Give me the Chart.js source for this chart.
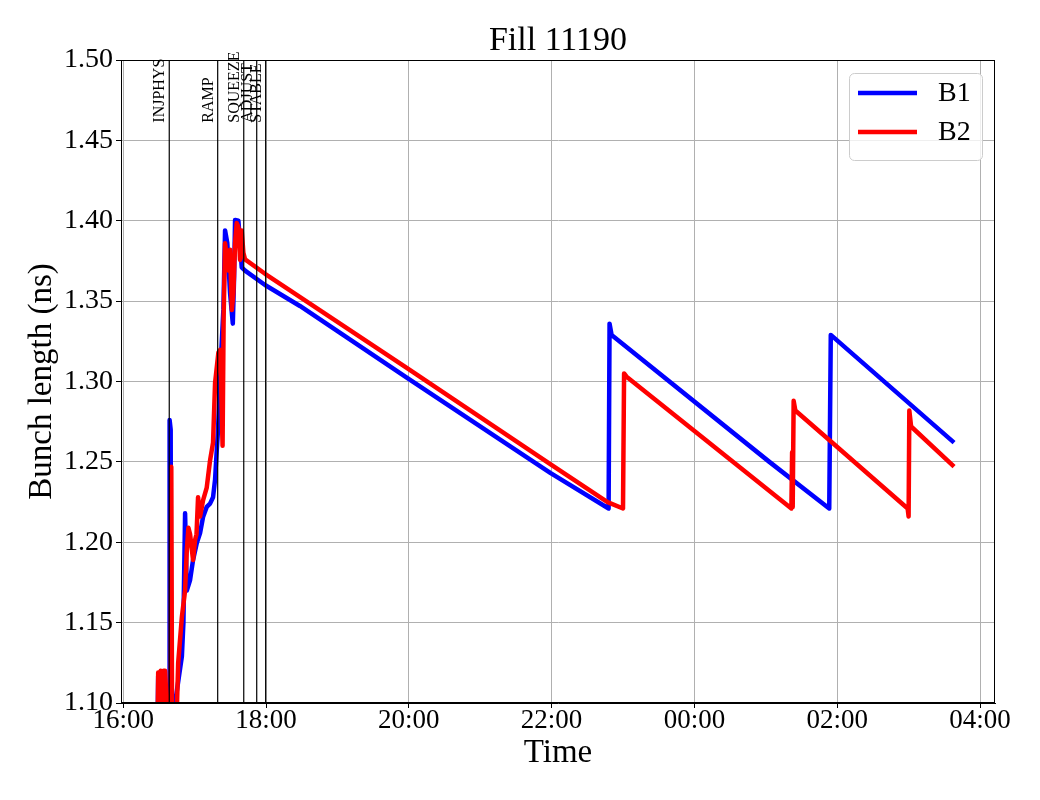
<!DOCTYPE html>
<html>
<head>
<meta charset="utf-8">
<script src="https://cdn.jsdelivr.net/npm/chart.js@4/dist/chart.umd.min.js"></script>
<style>
  html, body { margin: 0; padding: 0; background: #fff; }
  #wrap { width: 1040px; height: 800px; }
</style>
</head>
<body>
<div id="wrap"><canvas id="chart" width="1040" height="800"></canvas></div>
<script>
// time = minutes after 16:00
const b1Time = [28.95, 29.4, 30.2, 31.05, 31.9, 33.15, 33.6, 35.2, 38.6, 39.0, 39.9, 40.3, 42.8, 43.6, 49.3, 50.6, 52.0, 53.45, 56.2, 58.7, 61.85, 64.6, 67.1, 70.2, 73.0, 75.5, 77.2, 78.6, 79.7, 81.4, 82.8, 84.2, 85.6, 87.5, 89.8, 92.1, 93.2, 94.0, 96.8, 98.2, 99.6, 102.4, 119.2, 148.5, 239.2, 316.4, 359.2, 407.9, 408.7, 410.4, 543.0, 593.3, 594.6, 698.2];
const b1Len = [1.09, 1.117, 1.095, 1.118, 1.09, 1.119, 1.095, 1.08, 1.08, 1.276, 1.27, 1.08, 1.08, 1.10, 1.129, 1.15, 1.218, 1.170, 1.1765, 1.189, 1.1995, 1.2057, 1.2157, 1.222, 1.224, 1.228, 1.239, 1.257, 1.27, 1.305, 1.324, 1.345, 1.394, 1.386, 1.355, 1.336, 1.365, 1.4005, 1.400, 1.386, 1.371, 1.369, 1.360, 1.347, 1.302, 1.264, 1.243, 1.221, 1.336, 1.329, 1.250, 1.221, 1.329, 1.262];

const b2Time = [28.95, 29.4, 30.6, 31.5, 32.7, 34.0, 35.2, 36.5, 36.9, 39.9, 40.4, 41.1, 44.5, 46.2, 49.3, 52.0, 53.45, 54.8, 56.2, 58.7, 60.4, 61.6, 62.9, 64.6, 67.1, 70.2, 73.0, 75.5, 77.2, 80.0, 81.4, 82.2, 83.5, 84.4, 85.6, 88.4, 89.8, 91.3, 92.6, 94.0, 95.4, 96.8, 98.2, 99.6, 101.0, 102.4, 119.2, 239.2, 359.2, 407.0, 420.0, 420.9, 423.0, 561.5, 562.1, 562.6, 563.4, 564.8, 593.3, 659.2, 660.0, 660.6, 662.1, 698.2];
const b2Len = [1.09, 1.119, 1.10, 1.12, 1.095, 1.12, 1.12, 1.10, 1.08, 1.08, 1.247, 1.08, 1.08, 1.125, 1.1535, 1.170, 1.195, 1.209, 1.205, 1.189, 1.2014, 1.205, 1.228, 1.216, 1.226, 1.234, 1.251, 1.262, 1.299, 1.318, 1.3196, 1.30, 1.26, 1.34, 1.386, 1.369, 1.382, 1.3445, 1.355, 1.386, 1.3986, 1.396, 1.3756, 1.394, 1.380, 1.376, 1.367, 1.308, 1.2485, 1.225, 1.221, 1.305, 1.303, 1.221, 1.256, 1.222, 1.288, 1.282, 1.2636, 1.221, 1.216, 1.282, 1.272, 1.247];

const eventNames = ['INJPHYS', 'RAMP', 'SQUEEZE', 'ADJUST', 'STABLE'];
const eventTimes = [38.7, 79.4, 101.3, 112.2, 119.7];

const xTickValues = [0, 120, 240, 360, 480, 600, 720];
const xTickLabels = ['16:00', '18:00', '20:00', '22:00', '00:00', '02:00', '04:00'];

const titleText = 'Fill 11190';
const serif = '"Liberation Serif", "DejaVu Serif", serif';

function pts(t, v) {
  return t.map((x, i) => ({ x: x, y: v[i] }));
}

// title over the axes, beam mode lines, frame, legend
const extras = {
  id: 'extras',
  afterDatasetsDraw(chart) {
    const ctx = chart.ctx;
    const xs = chart.scales.x, ys = chart.scales.y;
    const area = chart.chartArea;
    ctx.save();
    ctx.strokeStyle = '#000';
    ctx.lineWidth = 1.2;
    eventTimes.forEach((t, i) => {
      const px = xs.getPixelForValue(t);
      ctx.beginPath();
      ctx.moveTo(px, area.top);
      ctx.lineTo(px, area.bottom);
      ctx.stroke();
      ctx.save();
      ctx.translate(px - 5, ys.getPixelForValue(1.461));
      ctx.rotate(-Math.PI / 2);
      ctx.font = '16px ' + serif;
      ctx.fillStyle = '#000';
      ctx.textAlign = 'left';
      ctx.textBaseline = 'alphabetic';
      ctx.fillText(eventNames[i], 0, 0);
      ctx.restore();
    });
    ctx.restore();
  },
  afterDraw(chart) {
    const ctx = chart.ctx;
    const a = chart.chartArea;
    ctx.save();
    ctx.strokeStyle = '#000';
    ctx.lineWidth = 1;
    ctx.strokeRect(a.left + 0.5, a.top + 0.5, a.right - a.left - 1, a.bottom - a.top - 1);

    ctx.font = '34px ' + serif;
    ctx.fillStyle = '#000';
    ctx.textAlign = 'center';
    ctx.textBaseline = 'middle';
    ctx.fillText(titleText, (a.left + a.right) / 2, a.top - 19);

    // legend box, upper right
    const bx = a.right - 146, by = a.top + 13, bw = 133, bh = 87;
    ctx.beginPath();
    ctx.roundRect(bx + 0.5, by + 0.5, bw, bh, 5);
    ctx.fillStyle = 'rgba(255,255,255,0.8)';
    ctx.fill();
    ctx.strokeStyle = '#cccccc';
    ctx.lineWidth = 1;
    ctx.stroke();
    chart.data.datasets.forEach((ds, i) => {
      const ly = by + 20 + i * 39;
      ctx.beginPath();
      ctx.moveTo(bx + 9, ly);
      ctx.lineTo(bx + 68, ly);
      ctx.strokeStyle = ds.borderColor;
      ctx.lineWidth = 4.5;
      ctx.stroke();
      ctx.font = '28px ' + serif;
      ctx.fillStyle = '#000';
      ctx.textAlign = 'left';
      ctx.textBaseline = 'middle';
      ctx.fillText(ds.label, bx + 89, ly + 1);
    });
    ctx.restore();
  }
};

new Chart(document.getElementById('chart'), {
  type: 'line',
  data: {
    datasets: [
      { label: 'B1', data: pts(b1Time, b1Len), borderColor: '#0000ff', order: 1 },
      { label: 'B2', data: pts(b2Time, b2Len), borderColor: '#ff0000', order: 0 }
    ]
  },
  options: {
    responsive: false,
    animation: false,
    parsing: false,
    layout: { padding: { left: 0, right: 45, top: 60, bottom: 0 } },
    elements: {
      line: { borderWidth: 4.5, tension: 0, borderJoinStyle: 'round', fill: false },
      point: { radius: 0, hoverRadius: 0 }
    },
    datasets: { line: { clip: 0 } },
    plugins: {
      legend: { display: false },
      tooltip: { enabled: false },
      title: { display: false }
    },
    scales: {
      x: {
        type: 'linear',
        min: -1.85,
        max: 732.6,
        afterBuildTicks: axis => { axis.ticks = xTickValues.map(v => ({ value: v })); },
        afterFit: axis => { axis.height = 97; },
        ticks: {
          color: '#000',
          font: { family: serif, size: 27 },
          padding: -3,
          maxRotation: 0,
          autoSkip: false,
          callback: (v) => xTickLabels[xTickValues.indexOf(v)]
        },
        grid: { color: '#b0b0b0', lineWidth: 1, tickLength: 5, tickColor: '#000' },
        border: { color: '#000', width: 1 },
        title: {
          display: true,
          text: 'Time',
          color: '#000',
          font: { family: serif, size: 33 },
          padding: { top: 0, bottom: 27 }
        }
      },
      y: {
        min: 1.10,
        max: 1.50,
        afterFit: axis => { axis.width = 121; },
        ticks: {
          stepSize: 0.05,
          color: '#000',
          font: { family: serif, size: 28 },
          padding: 3,
          callback: v => v.toFixed(2)
        },
        grid: { color: '#b0b0b0', lineWidth: 1, tickLength: 5, tickColor: '#000' },
        border: { color: '#000', width: 1 },
        title: {
          display: true,
          text: 'Bunch length (ns)',
          color: '#000',
          font: { family: serif, size: 33 },
          padding: { top: 23, bottom: 0 }
        }
      }
    }
  },
  plugins: [extras]
});
</script>
</body>
</html>
